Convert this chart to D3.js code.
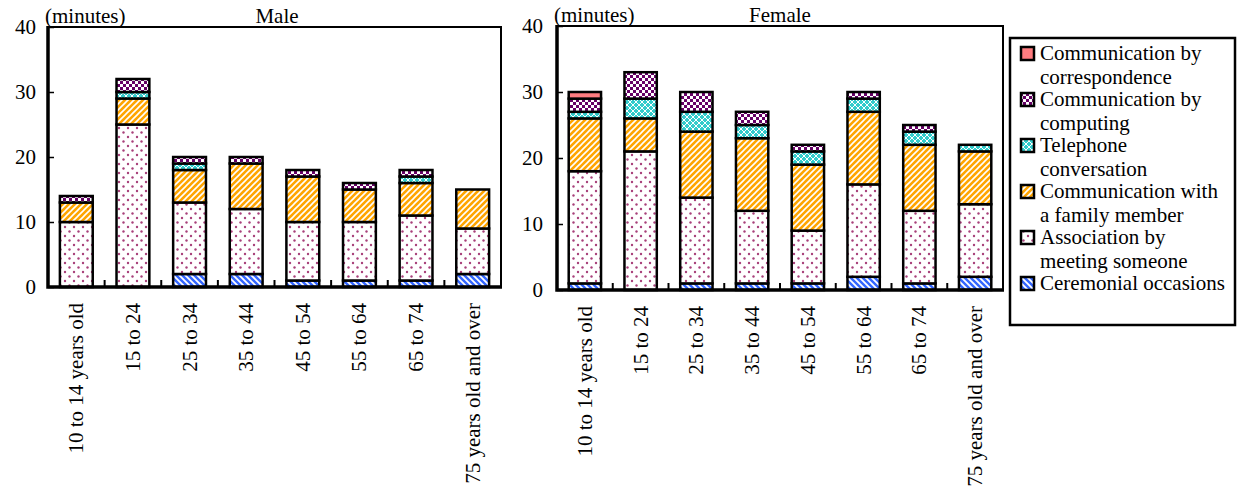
<!DOCTYPE html>
<html><head><meta charset="utf-8">
<script src="https://cdn.jsdelivr.net/npm/d3@7"></script>
<style>body{margin:0;background:#fff;} svg{display:block;}</style>
</head><body>
<svg id="c" width="1239" height="490" font-family="'Liberation Serif', 'Times New Roman', 'DejaVu Serif', serif"></svg>
<script>
const categories = ["10 to 14 years old","15 to 24","25 to 34","35 to 44","45 to 54","55 to 64","65 to 74","75 years old and over"];
const seriesKeys = ["ceremonial","association","family","telephone","computing","correspondence"];
const seriesLabels = [["Communication by","correspondence"],["Communication by","computing"],["Telephone","conversation"],["Communication with","a family member"],["Association by","meeting someone"],["Ceremonial occasions"]];
const legendOrder = ["correspondence","computing","telephone","family","association","ceremonial"];
// Male values (minutes)
const maleCeremonial     = [0, 0, 2, 2, 1, 1, 1, 2];
const maleAssociation    = [10,25,11,10, 9, 9,10, 7];
const maleFamily         = [3, 4, 5, 7, 7, 5, 5, 6];
const maleTelephone      = [0, 1, 1, 0, 0, 0, 1, 0];
const maleComputing      = [1, 2, 1, 1, 1, 1, 1, 0];
const maleCorrespondence = [0, 0, 0, 0, 0, 0, 0, 0];
// Female values (minutes)
const femaleCeremonial     = [1, 0, 1, 1, 1, 2, 1, 2];
const femaleAssociation    = [17,21,13,11, 8,14,11,11];
const femaleFamily         = [8, 5,10,11,10,11,10, 8];
const femaleTelephone      = [1, 3, 3, 2, 2, 2, 2, 1];
const femaleComputing      = [2, 4, 3, 2, 1, 1, 1, 0];
const femaleCorrespondence = [1, 0, 0, 0, 0, 0, 0, 0];
const yTicks = [0,10,20,30,40];

const FONT = "'Liberation Serif', 'Times New Roman', 'DejaVu Serif', serif";
const FS = 21;
const svg = d3.select("#c");
const defs = svg.append("defs");
function pat(id, w, h, bg, draw){
  const p = defs.append("pattern").attr("id",id).attr("patternUnits","userSpaceOnUse").attr("width",w).attr("height",h);
  p.append("rect").attr("width",w).attr("height",h).attr("fill",bg);
  draw(p);
}
pat("p-ceremonial",6,6,"#3366FF",p=>p.append("path").attr("d","M0,0L6,6M-1,5L1,7M5,-1L7,1").attr("stroke","#fff").attr("stroke-width",1.8));
pat("p-family",6,6,"#FFA500",p=>p.append("path").attr("d","M0,6L6,0M-1,1L1,-1M5,7L7,5").attr("stroke","#fff").attr("stroke-width",1.6));
pat("p-association",9,9,"#fff",p=>{
  p.append("circle").attr("cx",2).attr("cy",2).attr("r",1.2).attr("fill","#A8407A");
  p.append("circle").attr("cx",6.5).attr("cy",6.5).attr("r",1.2).attr("fill","#A8407A");
});
pat("p-telephone",6,6,"#33CCCC",p=>p.append("path").attr("d","M0,0L6,6M6,0L0,6").attr("stroke","#fff").attr("stroke-width",1));
pat("p-computing",6,6,"#660066",p=>{
  p.append("rect").attr("x",0).attr("y",0).attr("width",3).attr("height",3).attr("fill","#fff");
  p.append("rect").attr("x",3).attr("y",3).attr("width",3).attr("height",3).attr("fill","#fff");
});
const fills = {correspondence:"#FF7C80",computing:"url(#p-computing)",telephone:"url(#p-telephone)",family:"url(#p-family)",association:"url(#p-association)",ceremonial:"url(#p-ceremonial)"};

function buildRows(arrs){
  return categories.map((c,i)=>{const r={cat:c}; seriesKeys.forEach((k,j)=>r[k]=arrs[j][i]); return r;});
}
const maleRows = buildRows([maleCeremonial,maleAssociation,maleFamily,maleTelephone,maleComputing,maleCorrespondence]);
const femaleRows = buildRows([femaleCeremonial,femaleAssociation,femaleFamily,femaleTelephone,femaleComputing,femaleCorrespondence]);

function txt(sel){ return sel.append("text").attr("font-family",FONT).attr("fill","#000").attr("font-size",FS); }

function panel(rows, title, x0, x1, yTop, yBot, tickX, titleX, labelTop){
  const x = d3.scaleBand().domain(categories).range([x0,x1]).paddingInner(0.42).paddingOuter(0.21);
  const xs = d3.scaleBand().domain(categories).range([x0,x1]).padding(0);
  const y = d3.scaleLinear().domain([0,40]).range([yBot,yTop]);
  const g = svg.append("g");
  g.append("path").attr("d",`M${x0},${yTop}H${x1}V${yBot}`).attr("fill","none").attr("stroke","#000").attr("stroke-width",2);
  const stack = d3.stack().keys(seriesKeys)(rows);
  stack.forEach(layer=>{
    g.selectAll(null).data(layer.filter(d=>d[1]-d[0]>0)).enter().append("rect")
      .attr("x",d=>x(d.data.cat)).attr("width",x.bandwidth())
      .attr("y",d=>y(d[1])).attr("height",d=>y(d[0])-y(d[1]))
      .attr("fill",fills[layer.key]).attr("stroke","#000").attr("stroke-width",2.5);
  });
  const ya = g.append("g").attr("transform",`translate(${x0},0)`).call(d3.axisRight(y).tickValues(yTicks).tickSize(6).tickFormat(""));
  ya.select(".domain").remove();
  ya.selectAll("line").attr("stroke","#000").attr("stroke-width",1.5);
  yTicks.forEach(t=>{
    txt(g).attr("x",tickX).attr("y",y(t)+7).attr("text-anchor","end").text(t);
  });
  g.selectAll(null).data(categories.slice(1)).enter().append("line")
    .attr("x1",d=>xs(d)).attr("x2",d=>xs(d)).attr("y1",yBot).attr("y2",yBot-7).attr("stroke","#000").attr("stroke-width",2);
  g.append("path").attr("d",`M${x0},${yTop-1}V${yBot}H${x1+1}`).attr("fill","none").attr("stroke","#000").attr("stroke-width",3.5);
  categories.forEach(d=>{
    txt(g).attr("transform",`translate(${x(d)+x.bandwidth()/2+7},${labelTop}) rotate(-90)`)
      .attr("text-anchor","end").text(d);
  });
  txt(g).attr("x",x0-3).attr("y",yTop-4).text("(minutes)");
  txt(g).attr("x",titleX).attr("y",yTop-4).attr("text-anchor","middle").text(title);
}
panel(maleRows,"Male",48,501,27,287,36,277,303);
panel(femaleRows,"Female",557,1003,26,290,543,780,306);

const lg = svg.append("g");
lg.append("rect").attr("x",1010).attr("y",38).attr("width",225).attr("height",287).attr("fill","#fff").attr("stroke","#000").attr("stroke-width",2.5);
legendOrder.forEach((k,i)=>{
  const by = 60 + 46*i;
  lg.append("rect").attr("x",1021).attr("y",by-13).attr("width",13).attr("height",13).attr("fill",fills[k]).attr("stroke","#000").attr("stroke-width",2.5);
  seriesLabels[i].forEach((t,j)=>{
    txt(lg).attr("x",1040).attr("y",by+24*j).text(t);
  });
});
</script>
</body></html>
